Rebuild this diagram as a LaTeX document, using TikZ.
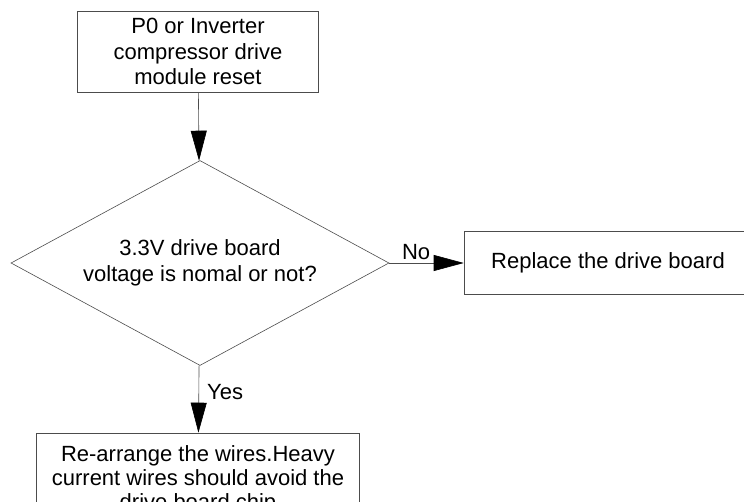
\documentclass[tikz,border=0pt]{standalone}
\usepackage{fontspec}
\setmainfont{Liberation Sans}
\usetikzlibrary{shapes.geometric,arrows.meta}
\tikzset{
  box/.style={draw=black!70, line width=0.6pt, rectangle, align=center, inner sep=0pt},
  test/.style={draw=black!70, line width=0.6pt, diamond, aspect=1.84, align=center, inner sep=0pt},
  flow/.style={draw=black!70, line width=0.6pt, -{Triangle[length=30pt,width=16pt,black]}},
  lbl/.style={font=\fontsize{22}{25}\selectfont}
}
\begin{document}
\begin{tikzpicture}[x=1pt, y=-1pt, font=\fontsize{22}{25.5}\selectfont]
    \useasboundingbox (0,0) rectangle (744,502);
    \clip (0,0) rectangle (744,502);
    % boxes
    \node [box, minimum width=241pt, minimum height=81pt] (reset) at (198,51.5) {P0 or Inverter\\compressor drive\\module reset};
    \node [test, minimum width=378pt, minimum height=205pt] (volt) at (200,263) {3.3V drive board\\voltage is nomal or not?};
    \node [box, minimum width=288pt, minimum height=63pt] (replace) at (608,263) {Replace the drive board};
    \node [box, minimum width=323pt, minimum height=94pt, font=\fontsize{22}{24}\selectfont] (wires) at (198,480) {Re-arrange the wires.Heavy\\current wires should avoid the\\drive board chip};
    % arrows
    \draw [flow] (reset) -- (volt);
    \draw [flow] (volt) -- node [lbl, pos=0.36, above] {No} (replace);
    \draw [flow] (volt) -- node [lbl, pos=0.4, right, inner sep=8pt] {Yes} (wires);
\end{tikzpicture}
\end{document}
